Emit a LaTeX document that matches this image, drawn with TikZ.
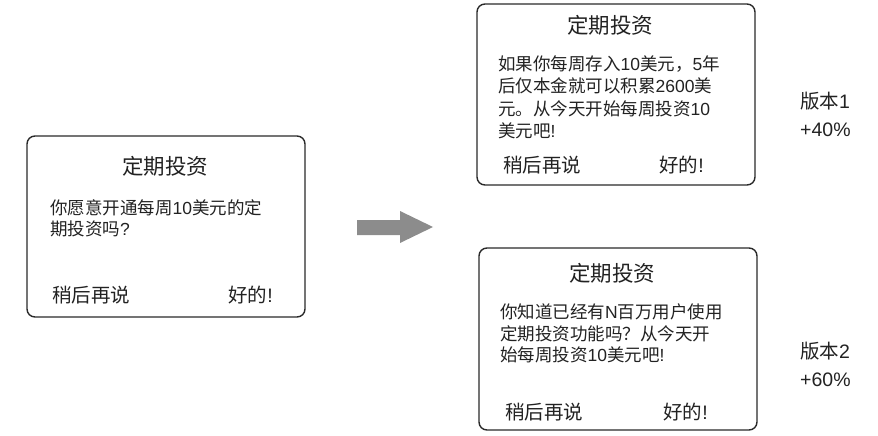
\documentclass[tikz,border=0pt]{standalone}
\usepackage{fontspec}
\setmainfont{Noto Sans CJK SC}
\newfontfamily\latn{Liberation Sans}
\newcommand{\lt}[1]{{\latn #1}}
\definecolor{ink}{HTML}{222222}
\definecolor{framec}{HTML}{2A2A2A}
\definecolor{arrowc}{HTML}{8C8C8C}
\begin{document}
\begin{tikzpicture}[x=1pt,y=-1pt,
  screen/.style={draw=framec, line width=1.4pt, rounded corners=8pt, fill=white, inner sep=0pt},
  titletxt/.style={text=ink, inner sep=0pt, font=\fontsize{21.5}{24}\selectfont},
  bodytxt/.style={text=ink, inner sep=0pt, align=left, font=\fontsize{17.5}{22.5}\selectfont},
  btntxt/.style={text=ink, inner sep=0pt, font=\fontsize{19.5}{22}\selectfont},
  sidetxt/.style={text=ink, inner sep=0pt, align=left, font=\fontsize{19.5}{28}\selectfont}]
\useasboundingbox (0,0) rectangle (878,436);
% left screen
\node[screen, minimum width=278pt, minimum height=181pt] (s1) at (166,226.5) {};
\node[titletxt] (t1) at (165,166) {定期投资};
\node[bodytxt, anchor=west, font=\fontsize{17.5}{21}\selectfont] (p1) at (50,218) {你愿意开通每周\lt{10}美元的定\\期投资吗\lt{?}};
\node[btntxt, anchor=west] (l1) at (52,295) {稍后再说};
\node[btntxt, anchor=east] (r1) at (273,295) {好的\lt{!}};
% top-right screen
\node[screen, minimum width=278pt, minimum height=181pt] (s2) at (616,94.5) {};
\node[titletxt] (t2) at (610,25) {定期投资};
\node[bodytxt, anchor=west] (p2) at (498,97.5) {如果你每周存入\lt{10}美元，\lt{5}年\\后仅本金就可以积累\lt{2600}美\\元。从今天开始每周投资\lt{10}\\美元吧\lt{!}};
\node[btntxt, anchor=west] (l2) at (503,165) {稍后再说};
\node[btntxt, anchor=east] (r2) at (704,165) {好的\lt{!}};
% bottom-right screen
\node[screen, minimum width=278pt, minimum height=182pt] (s3) at (618,339) {};
\node[titletxt] (t3) at (612,273) {定期投资};
\node[bodytxt, anchor=west, font=\fontsize{17.5}{21.5}\selectfont] (p3) at (500,333.5) {你知道已经有\lt{N}百万用户使用\\定期投资功能吗？从今天开\\始每周投资\lt{10}美元吧\lt{!}};
\node[btntxt, anchor=west] (l3) at (505,412) {稍后再说};
\node[btntxt, anchor=east] (r3) at (708,412) {好的\lt{!}};
% version labels
\node[sidetxt, anchor=west] (v1) at (800,114) {版本\lt{1}\\\lt{+40\%}};
\node[sidetxt, anchor=west] (v2) at (800,364) {版本\lt{2}\\\lt{+60\%}};
% block arrow
\fill[arrowc] (357,220) -- (400,220) -- (400,211) -- (433,227) -- (400,243) -- (400,235) -- (357,235) -- cycle;
\end{tikzpicture}
\end{document}
